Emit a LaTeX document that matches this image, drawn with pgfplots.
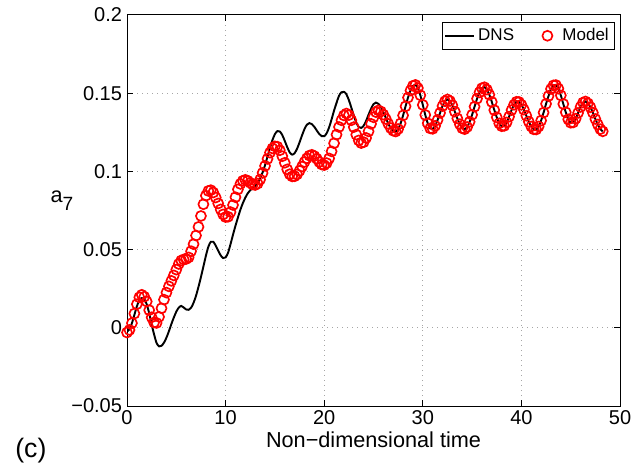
\documentclass[border=0pt]{standalone}
\usepackage{fontspec}
\setmainfont{Liberation Sans}
\usepackage{pgfplots}
\usepackage{pgfplotstable}
\pgfplotsset{compat=1.18}
\pgfplotstableread{
t dns model
0.00 -0.0024 -0.0030
0.25 -0.0010 -0.0014
0.50 0.0030 0.0030
0.75 0.0083 0.0091
1.00 0.0137 0.0151
1.25 0.0176 0.0195
1.50 0.0190 0.0211
1.75 0.0184 0.0199
2.00 0.0150 0.0168
2.25 0.0093 0.0113
2.50 0.0021 0.0067
2.75 -0.0043 0.0034
3.00 -0.0097 0.0031
3.25 -0.0119 0.0070
3.50 -0.0115 0.0125
3.75 -0.0095 0.0180
4.00 -0.0063 0.0225
4.25 -0.0022 0.0265
4.50 0.0024 0.0300
4.75 0.0066 0.0335
5.00 0.0103 0.0372
5.25 0.0129 0.0408
5.50 0.0140 0.0430
5.75 0.0130 0.0437
6.00 0.0117 0.0440
6.25 0.0115 0.0450
6.50 0.0128 0.0490
6.75 0.0160 0.0535
7.00 0.0205 0.0590
7.25 0.0262 0.0645
7.50 0.0325 0.0715
7.75 0.0392 0.0790
8.00 0.0460 0.0845
8.25 0.0518 0.0875
8.50 0.0550 0.0880
8.75 0.0550 0.0865
9.00 0.0525 0.0833
9.25 0.0493 0.0795
9.50 0.0463 0.0757
9.75 0.0446 0.0725
10.00 0.0450 0.0708
10.25 0.0480 0.0710
10.50 0.0535 0.0740
10.75 0.0595 0.0785
11.00 0.0652 0.0835
11.25 0.0705 0.0885
11.50 0.0755 0.0920
11.75 0.0797 0.0940
12.00 0.0832 0.0946
12.25 0.0860 0.0940
12.50 0.0880 0.0927
12.75 0.0895 0.0916
13.00 0.0908 0.0913
13.25 0.0925 0.0922
13.50 0.0955 0.0948
13.75 0.0993 0.0990
14.00 0.1040 0.1035
14.25 0.1095 0.1080
14.50 0.1150 0.1120
14.75 0.1200 0.1147
15.00 0.1238 0.1160
15.25 0.1258 0.1158
15.50 0.1255 0.1135
15.75 0.1232 0.1097
16.00 0.1195 0.1055
16.25 0.1155 0.1013
16.50 0.1122 0.0982
16.75 0.1107 0.0968
17.00 0.1117 0.0969
17.25 0.1145 0.0981
17.50 0.1186 0.1004
17.75 0.1230 0.1031
18.00 0.1271 0.1060
18.25 0.1299 0.1084
18.50 0.1309 0.1101
18.75 0.1302 0.1106
19.00 0.1285 0.1098
19.25 0.1261 0.1081
19.50 0.1239 0.1060
19.75 0.1225 0.1044
20.00 0.1225 0.1040
20.25 0.1244 0.1053
20.50 0.1282 0.1083
20.75 0.1333 0.1128
21.00 0.1389 0.1180
21.25 0.1438 0.1235
21.50 0.1483 0.1284
21.75 0.1506 0.1327
22.00 0.1509 0.1358
22.25 0.1493 0.1370
22.50 0.1456 0.1360
22.75 0.1408 0.1327
23.00 0.1357 0.1283
23.25 0.1313 0.1235
23.50 0.1284 0.1198
23.75 0.1278 0.1181
24.00 0.1292 0.1187
24.25 0.1323 0.1214
24.50 0.1363 0.1256
24.75 0.1400 0.1304
25.00 0.1430 0.1346
25.25 0.1440 0.1379
25.50 0.1432 0.1390
25.75 0.1411 0.1383
26.00 0.1380 0.1363
26.25 0.1342 0.1335
26.50 0.1306 0.1304
26.75 0.1277 0.1277
27.00 0.1259 0.1260
27.25 0.1256 0.1255
27.50 0.1271 0.1271
27.75 0.1307 0.1307
28.00 0.1358 0.1358
28.25 0.1416 0.1416
28.50 0.1472 0.1472
28.75 0.1517 0.1517
29.00 0.1547 0.1547
29.25 0.1553 0.1553
29.50 0.1533 0.1533
29.75 0.1487 0.1487
30.00 0.1425 0.1425
30.25 0.1361 0.1361
30.50 0.1308 0.1308
30.75 0.1275 0.1275
31.00 0.1272 0.1272
31.25 0.1291 0.1291
31.50 0.1329 0.1329
31.75 0.1374 0.1374
32.00 0.1418 0.1418
32.25 0.1449 0.1449
32.50 0.1460 0.1460
32.75 0.1450 0.1450
33.00 0.1422 0.1422
33.25 0.1382 0.1382
33.50 0.1339 0.1339
33.75 0.1302 0.1302
34.00 0.1276 0.1276
34.25 0.1270 0.1270
34.50 0.1284 0.1284
34.75 0.1317 0.1317
35.00 0.1362 0.1362
35.25 0.1414 0.1414
35.50 0.1465 0.1465
35.75 0.1505 0.1505
36.00 0.1532 0.1532
36.25 0.1538 0.1538
36.50 0.1523 0.1523
36.75 0.1490 0.1490
37.00 0.1444 0.1444
37.25 0.1392 0.1392
37.50 0.1346 0.1346
37.75 0.1307 0.1307
38.00 0.1289 0.1289
38.25 0.1291 0.1291
38.50 0.1313 0.1313
38.75 0.1350 0.1350
39.00 0.1392 0.1392
39.25 0.1426 0.1426
39.50 0.1445 0.1445
39.75 0.1444 0.1444
40.00 0.1426 0.1426
40.25 0.1395 0.1395
40.50 0.1356 0.1356
40.75 0.1318 0.1318
41.00 0.1287 0.1287
41.25 0.1269 0.1269
41.50 0.1268 0.1268
41.75 0.1287 0.1287
42.00 0.1325 0.1325
42.25 0.1376 0.1376
42.50 0.1432 0.1432
42.75 0.1482 0.1482
43.00 0.1527 0.1527
43.25 0.1550 0.1550
43.50 0.1552 0.1552
43.75 0.1529 0.1529
44.00 0.1486 0.1486
44.25 0.1431 0.1431
44.50 0.1378 0.1378
44.75 0.1333 0.1333
45.00 0.1311 0.1311
45.25 0.1313 0.1313
45.50 0.1337 0.1337
45.75 0.1374 0.1374
46.00 0.1412 0.1412
46.25 0.1440 0.1440
46.50 0.1447 0.1447
46.75 0.1435 0.1435
47.00 0.1410 0.1410
47.25 0.1375 0.1375
47.50 0.1335 0.1335
47.75 0.1300 0.1300
48.00 0.1270 0.1270
48.25 0.1256 0.1256
}\datatable
\begin{document}
\begin{tikzpicture}
\useasboundingbox (-76.2pt,-36.6pt) rectangle (303pt,243.6pt);
\begin{axis}[
  scale only axis,
  width=295.8pt, height=234.6pt,
  clip mode=individual,
  xmin=0, xmax=50, ymin=-0.05, ymax=0.2,
  xtick={0,10,20,30,40,50},
  xticklabels={0,10,20,30,40,50},
  ytick={-0.05,0,0.05,0.1,0.15,0.2},
  yticklabels={−0.05,0,0.05,0.1,0.15,0.2},
  /pgf/number format/assume math mode=true,
  tick align=inside,
  major tick length=3.5pt,
  axis line style={line width=0.6pt},
  tick style={line width=0.6pt, black},
  grid=major,
  grid style={line width=0.6pt, gray!70, dash pattern=on 0.6pt off 2.4pt},
  tick label style={font=\fontsize{12}{14}\selectfont},
  xticklabel style={yshift=1pt},
  yticklabel style={xshift=0.5pt},
  xlabel={Non−dimensional time},
  ylabel={a\raisebox{-5pt}{\fontsize{11.5}{13}\selectfont 7}},
  every axis x label/.style={at={(axis description cs:0.5,-0.087)}, anchor=center, font=\fontsize{13}{15}\selectfont},
  every axis y label/.style={at={(axis description cs:-0.132,0.525)}, anchor=center, font=\fontsize{13}{15}\selectfont},
  legend style={at={(axis description cs:0.99,0.982)}, anchor=north east,
    draw=black, line width=0.6pt, font=\fontsize{10.2}{12}\selectfont,
    inner sep=1.5pt, row sep=0pt},
  legend columns=2,
  legend cell align=left,
  /tikz/every even column/.append style={column sep=15pt},
]
\addplot[black, line width=1.15pt, smooth] table[x=t, y=dns] {\datatable};
\addlegendentry{DNS}
\addplot[red, only marks, mark=o, mark size=3pt, mark options={line width=1pt}] table[x=t, y=model] {\datatable};
\addlegendentry{\hspace{4pt}Model}
\node[font=\fontsize{16}{18}\selectfont] at (axis description cs:-0.195,-0.113) {(c)};
\end{axis}
\end{tikzpicture}
\end{document}
